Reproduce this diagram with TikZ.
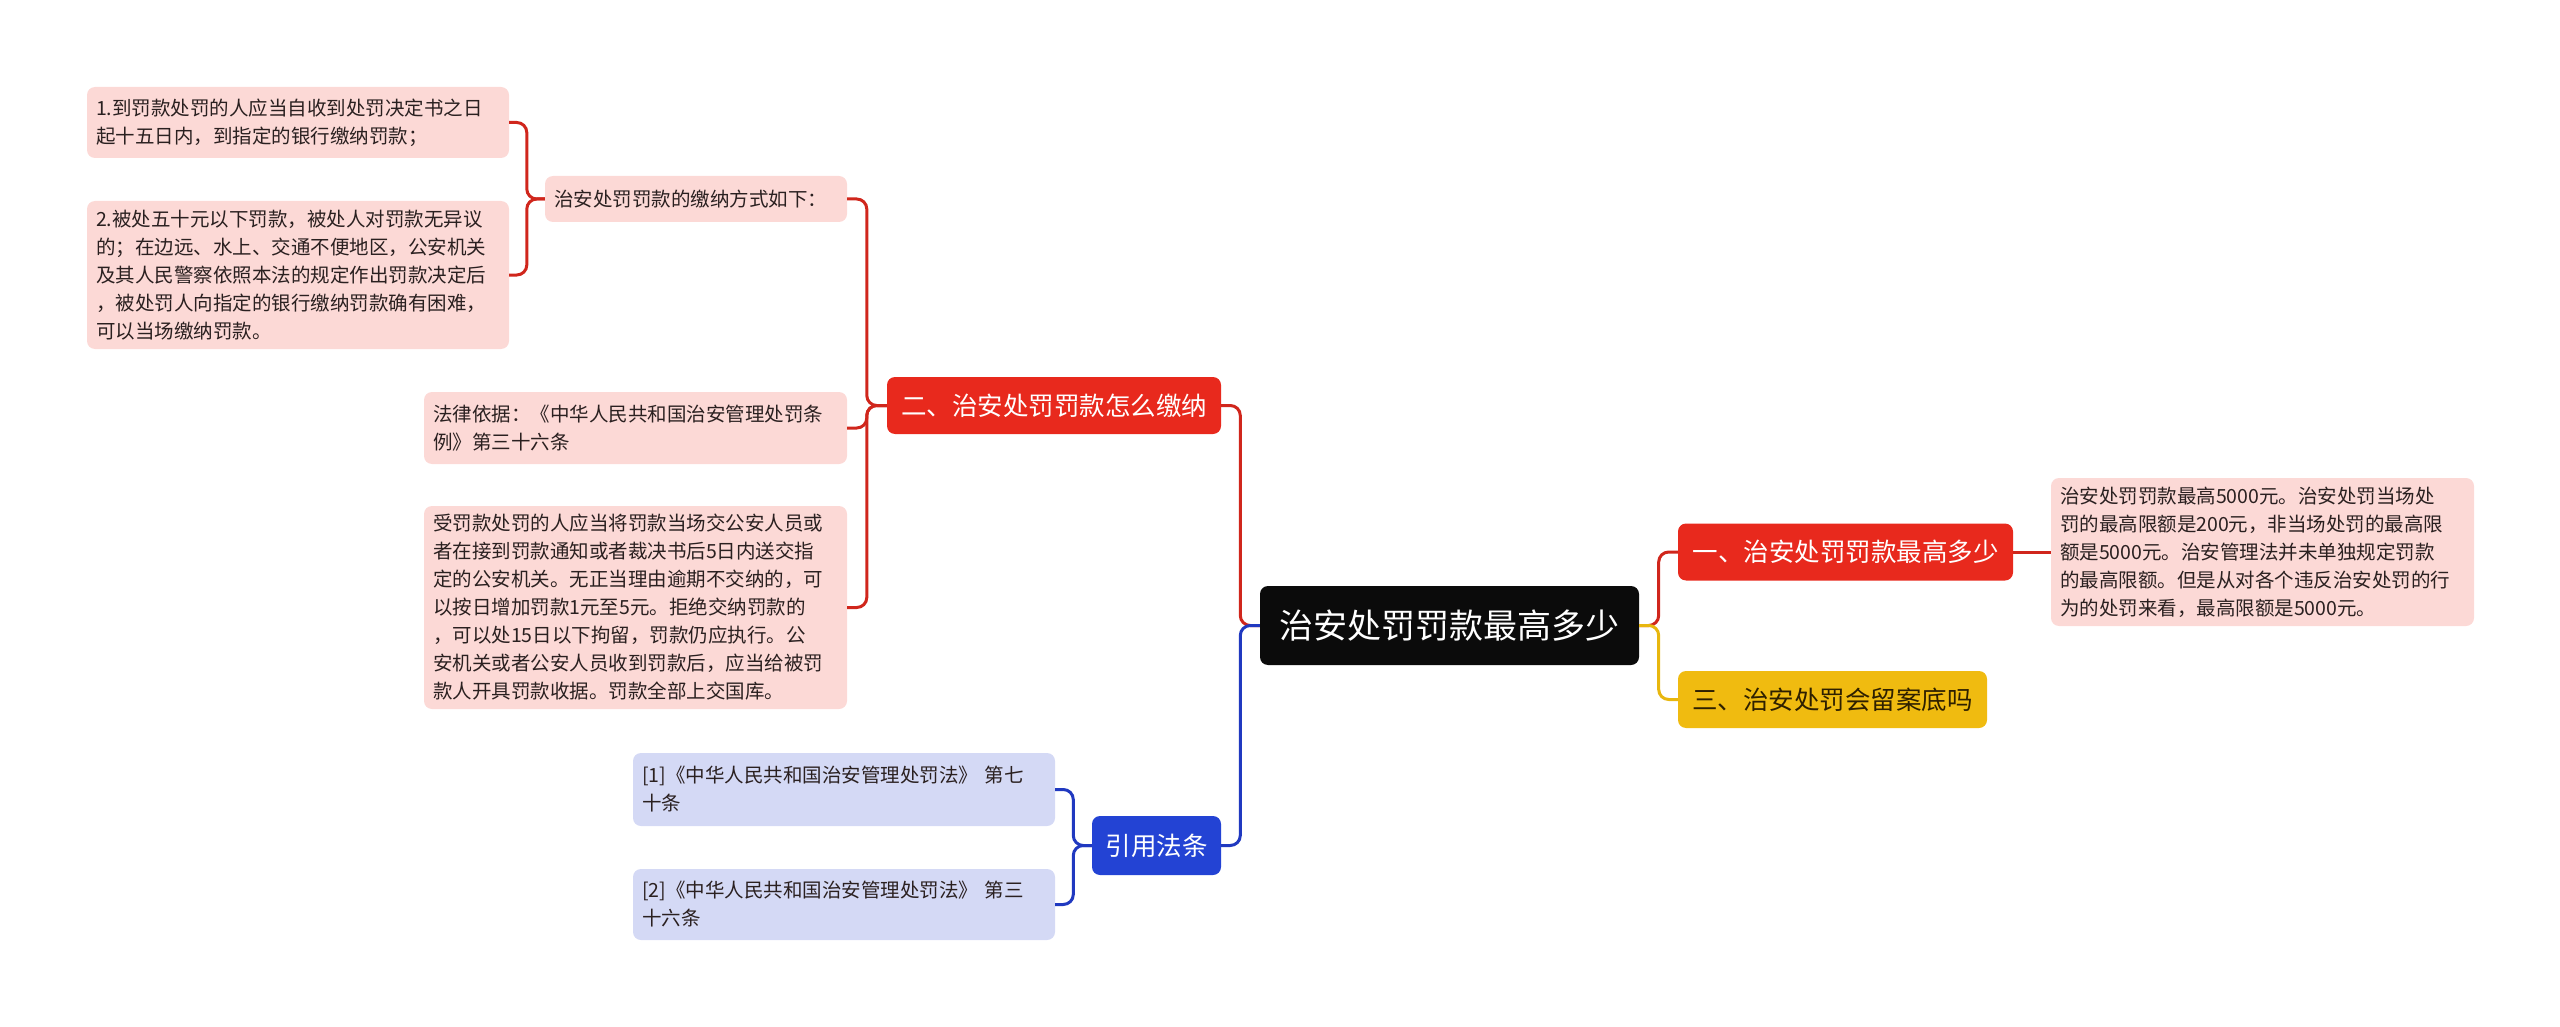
\documentclass[tikz,border=0pt]{standalone}
\usepackage{fontspec}
\setmainfont{Noto Sans CJK SC}
\definecolor{rootbg}{HTML}{0B0B0B}
\definecolor{redfill}{HTML}{E8291D}
\definecolor{redline}{HTML}{D0261C}
\definecolor{pinkfill}{HTML}{FCD9D6}
\definecolor{yelfill}{HTML}{F0BB10}
\definecolor{yelline}{HTML}{E8B70F}
\definecolor{yeltext}{HTML}{2E2000}
\definecolor{bluefill}{HTML}{2343D4}
\definecolor{blueline}{HTML}{2039C0}
\definecolor{lbluefill}{HTML}{D4D9F5}
\definecolor{leaftext}{HTML}{2A2020}
\tikzset{
  base/.style={rectangle, rounded corners=8pt, inner sep=0pt, draw=none},
  rootbox/.style={base, fill=rootbg, text=white, minimum width=379pt, minimum height=79pt, font=\fontsize{34}{40}\selectfont},
  mainbox/.style={base, minimum height=57pt, font=\fontsize{25.5}{30}\selectfont},
  redmain/.style={mainbox, fill=redfill, text=white},
  yelmain/.style={mainbox, fill=yelfill, text=yeltext},
  bluemain/.style={mainbox, fill=bluefill, text=white},
  leaf/.style={base, align=left, inner xsep=9pt, text=leaftext, font=\fontsize{19.5}{28}\selectfont},
  pinkleaf/.style={leaf, fill=pinkfill},
  blueleaf/.style={leaf, fill=lbluefill},
  conn/.style={line width=3pt, rounded corners=10pt},
  redconn/.style={conn, draw=redline},
  yelconn/.style={conn, draw=yelline},
  blueconn/.style={conn, draw=blueline},
}
\begin{document}
\begin{tikzpicture}[x=1pt,y=-1pt]
\useasboundingbox (0,0) rectangle (2560,1027);
% root
\node[rootbox] (root) at (1449.5,625.5) {治安处罚罚款最高多少};
% right side
\node[redmain, minimum width=335pt] (n1) at (1845.5,552) {一、治安处罚罚款最高多少};
\node[yelmain, minimum width=309pt] (n3) at (1832.5,699.5) {三、治安处罚会留案底吗};
\node[pinkleaf, text width=405pt, minimum height=148pt] (t1) at (2262.5,552) {治安处罚罚款最高5000元。治安处罚当场处\\罚的最高限额是200元，非当场处罚的最高限\\额是5000元。治安管理法并未单独规定罚款\\的最高限额。但是从对各个违反治安处罚的行\\为的处罚来看，最高限额是5000元。};
% left side
\node[redmain, minimum width=334pt] (n2) at (1054,405.5) {二、治安处罚罚款怎么缴纳};
\node[bluemain, minimum width=129pt, minimum height=59pt] (ref) at (1156.5,845.5) {引用法条};
\node[pinkleaf, text width=284pt, minimum height=46pt] (pay) at (696,199) {治安处罚罚款的缴纳方式如下：};
\node[pinkleaf, text width=404pt, minimum height=71pt] (p1) at (298,122.5) {1.到罚款处罚的人应当自收到处罚决定书之日\\起十五日内，到指定的银行缴纳罚款；};
\node[pinkleaf, text width=404pt, minimum height=148pt] (p2) at (298,275) {2.被处五十元以下罚款，被处人对罚款无异议\\的；在边远、水上、交通不便地区，公安机关\\及其人民警察依照本法的规定作出罚款决定后\\，被处罚人向指定的银行缴纳罚款确有困难，\\可以当场缴纳罚款。};
\node[pinkleaf, text width=405pt, minimum height=72pt] (law) at (635.5,428) {法律依据：《中华人民共和国治安管理处罚条\\例》第三十六条};
\node[pinkleaf, text width=405pt, minimum height=203pt] (rec) at (635.5,607.5) {受罚款处罚的人应当将罚款当场交公安人员或\\者在接到罚款通知或者裁决书后5日内送交指\\定的公安机关。无正当理由逾期不交纳的，可\\以按日增加罚款1元至5元。拒绝交纳罚款的\\，可以处15日以下拘留，罚款仍应执行。公\\安机关或者公安人员收到罚款后，应当给被罚\\款人开具罚款收据。罚款全部上交国库。};
\node[blueleaf, text width=404pt, minimum height=73pt] (r1) at (844,789.5) {[1]《中华人民共和国治安管理处罚法》 第七\\十条};
\node[blueleaf, text width=404pt, minimum height=71pt] (r2) at (844,904.5) {[2]《中华人民共和国治安管理处罚法》 第三\\十六条};
% connectors
\draw[redconn] (root.east) -- ++(19.5,0) |- (n1.west);
\draw[yelconn] (root.east) -- ++(19.5,0) |- (n3.west);
\draw[redconn] (n1.east) -- (t1.west);
\draw[redconn] (root.west) -- ++(-19.5,0) |- (n2.east);
\draw[blueconn] (root.west) -- ++(-19.5,0) |- (ref.east);
\draw[redconn] (n2.west) -- ++(-20,0) |- (pay.east);
\draw[redconn] (n2.west) -- ++(-20,0) |- (law.east);
\draw[redconn] (n2.west) -- ++(-20,0) |- (rec.east);
\draw[redconn] (pay.west) -- ++(-18,0) |- (p1.east);
\draw[redconn] (pay.west) -- ++(-18,0) |- (p2.east);
\draw[blueconn] (ref.west) -- ++(-18.5,0) |- (r1.east);
\draw[blueconn] (ref.west) -- ++(-18.5,0) |- (r2.east);
\end{tikzpicture}
\end{document}
